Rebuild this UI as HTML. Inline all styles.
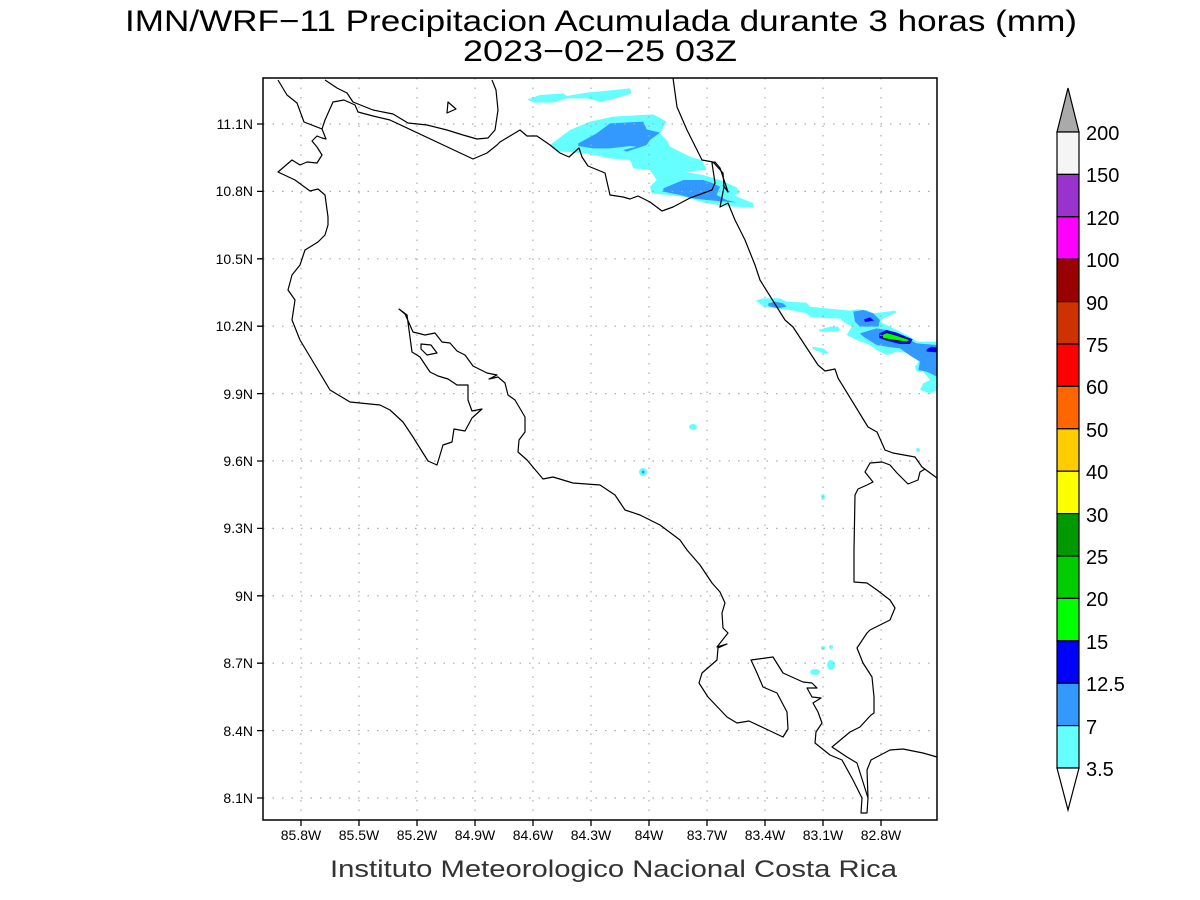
<!DOCTYPE html>
<html><head><meta charset="utf-8"><style>body{margin:0;background:#fff}svg{display:block}</style></head>
<body>
<svg width="1200" height="900" viewBox="0 0 1200 900" xmlns="http://www.w3.org/2000/svg" font-family="Liberation Sans, sans-serif">
<rect width="1200" height="900" fill="#fff"/>
<text x="125" y="31" font-size="30" textLength="952" lengthAdjust="spacingAndGlyphs" fill="#000">IMN/WRF−11 Precipitacion Acumulada durante 3 horas (mm)</text>
<text x="463" y="61" font-size="30" textLength="274" lengthAdjust="spacingAndGlyphs" fill="#000">2023−02−25 03Z</text>
<text x="330" y="877" font-size="24" textLength="567" lengthAdjust="spacingAndGlyphs" fill="#333">Instituto Meteorologico Nacional Costa Rica</text>

<!-- precip -->
<g transform="translate(520,80) scale(0.3333)" stroke="none">
<path fill="#66ffff" d="M22,58 L60,45 130,40 140,48 200,38 330,25 335,40 270,60 240,65 200,55 140,55 100,68 40,68Z"/>
<path fill="#66ffff" d="M90,195 L150,150 210,125 280,110 400,103 440,125 420,160 440,180 450,200 510,230 545,240 560,270 490,275 550,285 600,300 650,322 660,340 640,345 700,370 700,382 640,380 560,370 490,350 395,340 390,320 410,300 390,270 340,265 330,240 270,235 200,220 120,215Z"/>
<path fill="#3399ff" d="M175,190 L230,160 270,130 370,125 380,148 420,158 390,180 380,195 350,205 320,215 310,210 350,200 330,198 270,205 220,205 175,198Z"/>
<path fill="#3399ff" d="M430,325 L490,300 550,300 580,310 600,320 590,345 620,360 650,368 560,360 520,355 480,345 430,335Z"/>
</g>
<g transform="translate(730,280) scale(0.3333)" stroke="none">
<path fill="#66ffff" d="M78,62 L100,55 150,55 170,65 230,68 240,80 290,85 360,92 380,88 410,90 430,100 495,92 500,98 460,115 450,125 540,170 560,185 621,185 621,330 600,340 570,330 580,310 600,300 580,275 560,275 555,260 570,240 540,220 500,215 470,225 440,210 420,195 380,180 350,165 365,140 340,125 330,115 290,115 240,110 230,100 180,90 140,85 100,80Z"/>
<path fill="#66ffff" d="M265,150 L300,140 325,140 330,152 310,155 270,155Z M245,200 L280,205 298,220 285,222 250,208Z"/>
<path fill="#3399ff" d="M115,70 L135,65 160,70 170,80 145,85 115,78Z M370,95 L400,90 430,100 450,120 445,140 390,140 375,125Z M390,160 L440,145 470,150 520,170 560,190 621,195 621,290 590,275 565,270 570,245 545,230 510,205 470,200 440,195 400,170Z"/>
<path fill="#0000ff" d="M402,118 L420,112 432,122 405,126Z M448,160 L470,150 500,158 548,178 540,192 510,192 470,182 448,174Z M590,208 L605,200 621,203 621,217 590,215Z"/>
<path fill="#00ff00" stroke="#000" stroke-width="2" d="M455,165 L470,158 495,165 540,180 530,186 490,180 460,175Z"/>
</g>
<g fill="#66ffff">
<ellipse cx="693" cy="427" rx="4" ry="3"/>
<ellipse cx="643" cy="472" rx="4" ry="4"/>
<ellipse cx="823" cy="497" rx="2" ry="3"/>
<ellipse cx="918" cy="450" rx="2" ry="2"/>
<ellipse cx="823" cy="648" rx="2" ry="2"/>
<ellipse cx="831" cy="647" rx="2" ry="2"/>
<ellipse cx="831" cy="665" rx="4" ry="5"/>
<ellipse cx="815" cy="672" rx="5" ry="3"/>
</g>
<circle cx="643" cy="472" r="1.5" fill="#3399ff"/>

<!-- grid -->
<g stroke="#aaa" stroke-width="1.2" stroke-dasharray="1.5,8">
<path d="M301,78V820M359,78V820M417,78V820M475,78V820M533,78V820M591,78V820M649,78V820M707,78V820M765,78V820M823,78V820M881,78V820"/>
<path d="M263,124H937M263,191.4H937M263,258.8H937M263,326.2H937M263,393.6H937M263,461H937M263,528.4H937M263,595.8H937M263,663.2H937M263,730.6H937M263,798H937"/>
</g>

<!-- coastlines -->
<g fill="none" stroke="#000" stroke-width="1.2" stroke-linejoin="round">
<path d="M278,80 L287,95 297,103 304,122 322,129 326,139 322,138 317,136 312,141 317,147 322,155 317,163 307,162 300,165 292,160 278,172 295,180 310,191 318,189 325,195 328,217 328,225 325,235 318,242 305,250 300,265 292,275 288,290 295,300 292,320 300,340 315,365 330,390 350,402 380,405 390,410 403,422 413,437 428,461 437,465 443,445 452,442 454,429 465,431 472,418 482,409 472,411 468,400 468,385 457,385 448,379 438,376 430,372 420,357 412,352 407,315 399,309 405,314 413,332 425,335 435,333 442,342 450,343 457,351 465,355 473,366 487,373 497,375 489,379 498,377 505,383 508,395 515,400 525,417 525,432 519,440 518,452 527,460 543,479 553,477 573,483 600,485 615,495 625,510 640,515 660,525 680,540 687,550 700,565 712,583 720,592 725,603 722,613 723,628 728,633 717,647 727,644 718,648 717,660 702,673 699,683 708,697 727,717 737,723 749,721 783,737 788,729 787,712 777,693 763,687 757,673 751,660 773,657 783,673 803,682 812,683 817,688 807,688 812,697 821,698 813,703 818,712 822,723 816,732 815,743 830,755 842,760 853,780 862,798 861,813 867,813 868,798 867,770 871,760 890,750 903,749 923,753 937,757"/>
<path d="M868,798 L857,763 847,757 832,747 850,732 860,727 871,715 874,713 874,697 872,677 863,663 857,648 867,633 870,630 890,620 895,608 890,600 877,590 867,583 854,582 854,550 855,495 858,489 867,485 873,482 865,472 870,463 882,462 890,465 897,473 908,484 918,480 920,472 925,469"/>
<path d="M673,78 L677,107 687,130 702,160 713,162 723,173 724,187 720,207 728,203 735,220 745,240 755,265 760,280 785,320 793,327 818,365 825,371 835,369 838,378 868,427 877,432 885,450 893,453 915,457 922,467 937,478"/>
<path d="M322,129 L325,120 333,102 344,100 355,105 358,112 373,116 390,120 473,159 487,153 497,145 500,142 520,130 527,136 537,136 550,145 560,153 569,157 579,148 582,157 588,166 605,173 610,195 623,197 630,199 638,196 650,202 662,211 673,207 690,198 712,190 715,183 712,163 715,162 720,168 728,192 723,185"/>
<path d="M325,80 L337,88 347,93 353,102 373,110 393,114 408,123 427,125 447,130 463,135 477,139 488,138 495,130 498,110 496,90 492,80"/>
<path d="M448,102 L456,109 447,113Z"/>
<path d="M421,344 L431,345 437,353 427,355 421,349Z"/>
</g>

<!-- frame -->
<rect x="263" y="78" width="674" height="742" fill="none" stroke="#000" stroke-width="1.5"/>
<g stroke="#000" stroke-width="1.3">
<path d="M257,124H263M257,191.4H263M257,258.8H263M257,326.2H263M257,393.6H263M257,461H263M257,528.4H263M257,595.8H263M257,663.2H263M257,730.6H263M257,798H263"/>
<path d="M301,820V826M359,820V826M417,820V826M475,820V826M533,820V826M591,820V826M649,820V826M707,820V826M765,820V826M823,820V826M881,820V826"/>
</g>
<g font-size="14" fill="#000" text-anchor="end">
<text x="253" y="129">11.1N</text><text x="253" y="196">10.8N</text><text x="253" y="264">10.5N</text><text x="253" y="331">10.2N</text><text x="253" y="399">9.9N</text><text x="253" y="466">9.6N</text><text x="253" y="533">9.3N</text><text x="253" y="601">9N</text><text x="253" y="668">8.7N</text><text x="253" y="736">8.4N</text><text x="253" y="803">8.1N</text>
</g>
<g font-size="14" fill="#000" text-anchor="middle">
<text x="301" y="840">85.8W</text><text x="359" y="840">85.5W</text><text x="417" y="840">85.2W</text><text x="475" y="840">84.9W</text><text x="533" y="840">84.6W</text><text x="591" y="840">84.3W</text><text x="649" y="840">84W</text><text x="707" y="840">83.7W</text><text x="765" y="840">83.4W</text><text x="823" y="840">83.1W</text><text x="881" y="840">82.8W</text>
</g>

<!-- colorbar -->
<g stroke="#000" stroke-width="1.2">
<path d="M1068,88 L1079,132 L1057,132Z" fill="#aaaaaa"/>
<rect x="1057" y="132" width="22" height="42.4" fill="#f5f5f5"/>
<rect x="1057" y="174.4" width="22" height="42.4" fill="#9933cc"/>
<rect x="1057" y="216.8" width="22" height="42.4" fill="#ff00ff"/>
<rect x="1057" y="259.2" width="22" height="42.4" fill="#990000"/>
<rect x="1057" y="301.6" width="22" height="42.4" fill="#cc3300"/>
<rect x="1057" y="344" width="22" height="42.4" fill="#ff0000"/>
<rect x="1057" y="386.4" width="22" height="42.4" fill="#ff6600"/>
<rect x="1057" y="428.8" width="22" height="42.4" fill="#ffcc00"/>
<rect x="1057" y="471.2" width="22" height="42.4" fill="#ffff00"/>
<rect x="1057" y="513.6" width="22" height="42.4" fill="#009900"/>
<rect x="1057" y="556" width="22" height="42.4" fill="#00cc00"/>
<rect x="1057" y="598.4" width="22" height="42.4" fill="#00ff00"/>
<rect x="1057" y="640.8" width="22" height="42.4" fill="#0000ff"/>
<rect x="1057" y="683.2" width="22" height="42.4" fill="#3399ff"/>
<rect x="1057" y="725.6" width="22" height="42.4" fill="#66ffff"/>
<path d="M1057,768 L1079,768 L1068,810Z" fill="#fff"/>
</g>
<g font-size="20" fill="#000">
<text x="1086" y="140">200</text><text x="1086" y="182">150</text><text x="1086" y="225">120</text><text x="1086" y="267">100</text><text x="1086" y="310">90</text><text x="1086" y="352">75</text><text x="1086" y="394">60</text><text x="1086" y="437">50</text><text x="1086" y="479">40</text><text x="1086" y="522">30</text><text x="1086" y="564">25</text><text x="1086" y="606">20</text><text x="1086" y="649">15</text><text x="1086" y="691">12.5</text><text x="1086" y="734">7</text><text x="1086" y="776">3.5</text>
</g>
</svg>
</body></html>
